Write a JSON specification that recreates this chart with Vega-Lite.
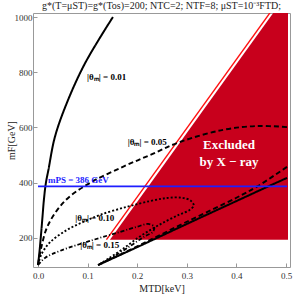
{
  "$schema": "https://vega.github.io/schema/vega-lite/v6.json",
  "width": 257,
  "height": 254,
  "autosize": {"type": "none"},
  "padding": {"left": 33, "top": 13, "right": 3, "bottom": 30},
  "config": {
    "view": {"stroke": "#999", "strokeWidth": 1},
    "font": "Liberation Serif",
    "axis": {
      "domain": false,
      "grid": false,
      "tickColor": "#999",
      "tickSize": -4,
      "labelFont": "Liberation Serif",
      "labelFontSize": 9,
      "labelColor": "#333",
      "titleFont": "Liberation Serif",
      "titleFontSize": 10,
      "titleFontWeight": "normal",
      "titleColor": "#222"
    }
  },
  "title": {
    "text": "g*(T=μST)=g*(Tos)=200; NTC=2; NTF=8; μST=10⁻³FTD;",
    "font": "Liberation Serif",
    "fontSize": 10,
    "fontWeight": "normal",
    "color": "#222",
    "offset": 2,
    "anchor": "middle"
  },
  "encoding": {
    "x": {
      "field": "x",
      "type": "quantitative",
      "scale": {"domain": [-0.0101, 0.508], "nice": false, "zero": false},
      "axis": {"values": [0, 0.1, 0.2, 0.3, 0.4, 0.5], "format": ".1f", "title": "MTD[keV]", "labelPadding": 8, "titlePadding": 3}
    },
    "y": {
      "field": "m",
      "type": "quantitative",
      "scale": {"domain": [94, 1014.5], "nice": false, "zero": false},
      "axis": {"values": [200, 400, 600, 800, 1000], "format": "d", "title": "mF[GeV]", "labelPadding": 5, "titlePadding": -2}
    }
  },
  "layer": [
    {
      "data": {"values": [
        {"x": 0.145, "m": 193, "m2": 193},
        {"x": 0.504, "m": 1089, "m2": 193}
      ]},
      "mark": {"type": "area", "color": "#c8001c", "clip": true},
      "encoding": {"y2": {"field": "m2"}}
    },
    {
      "data": {"values": [
        {"x": 0.138, "m": 193},
        {"x": 0.474, "m": 1031}
      ]},
      "mark": {"type": "line", "color": "#ff1010", "strokeWidth": 1.4, "clip": true},
      "encoding": {}
    },
    {
      "data": {"values": [
        {"c": "0.01", "b": "01u", "i": 0, "x": 0.0, "m": 101},
        {"c": "0.01", "b": "01u", "i": 1, "x": 0.003, "m": 150},
        {"c": "0.01", "b": "01u", "i": 2, "x": 0.006, "m": 210},
        {"c": "0.01", "b": "01u", "i": 3, "x": 0.009, "m": 275},
        {"c": "0.01", "b": "01u", "i": 4, "x": 0.012, "m": 340},
        {"c": "0.01", "b": "01u", "i": 5, "x": 0.016, "m": 400},
        {"c": "0.01", "b": "01u", "i": 6, "x": 0.021, "m": 446},
        {"c": "0.01", "b": "01u", "i": 7, "x": 0.034, "m": 565},
        {"c": "0.01", "b": "01u", "i": 8, "x": 0.058, "m": 688},
        {"c": "0.01", "b": "01u", "i": 9, "x": 0.095, "m": 833},
        {"c": "0.01", "b": "01u", "i": 10, "x": 0.151, "m": 1000},
        {"c": "0.01", "b": "01l", "i": 0, "x": 0.121, "m": 101},
        {"c": "0.01", "b": "01l", "i": 1, "x": 0.2, "m": 166},
        {"c": "0.01", "b": "01l", "i": 2, "x": 0.3, "m": 250},
        {"c": "0.01", "b": "01l", "i": 3, "x": 0.4, "m": 333},
        {"c": "0.01", "b": "01l", "i": 4, "x": 0.464, "m": 386},
        {"c": "0.01", "b": "01l", "i": 5, "x": 0.502, "m": 417},
        {"c": "0.05", "b": "05u", "i": 0, "x": 0.0, "m": 103},
        {"c": "0.05", "b": "05u", "i": 1, "x": 0.006, "m": 160},
        {"c": "0.05", "b": "05u", "i": 2, "x": 0.02, "m": 245},
        {"c": "0.05", "b": "05u", "i": 3, "x": 0.055, "m": 335},
        {"c": "0.05", "b": "05u", "i": 4, "x": 0.105, "m": 399},
        {"c": "0.05", "b": "05u", "i": 5, "x": 0.171, "m": 457},
        {"c": "0.05", "b": "05u", "i": 6, "x": 0.226, "m": 500},
        {"c": "0.05", "b": "05u", "i": 7, "x": 0.286, "m": 547},
        {"c": "0.05", "b": "05u", "i": 8, "x": 0.373, "m": 591},
        {"c": "0.05", "b": "05u", "i": 9, "x": 0.442, "m": 605},
        {"c": "0.05", "b": "05u", "i": 10, "x": 0.502, "m": 601},
        {"c": "0.05", "b": "05l", "i": 0, "x": 0.121, "m": 101},
        {"c": "0.05", "b": "05l", "i": 1, "x": 0.206, "m": 174},
        {"c": "0.05", "b": "05l", "i": 2, "x": 0.3, "m": 258},
        {"c": "0.05", "b": "05l", "i": 3, "x": 0.4, "m": 345},
        {"c": "0.05", "b": "05l", "i": 4, "x": 0.442, "m": 386},
        {"c": "0.05", "b": "05l", "i": 5, "x": 0.502, "m": 457},
        {"c": "0.10", "b": "10", "i": 0, "x": 0.0, "m": 102},
        {"c": "0.10", "b": "10", "i": 1, "x": 0.007, "m": 140},
        {"c": "0.10", "b": "10", "i": 2, "x": 0.024, "m": 183},
        {"c": "0.10", "b": "10", "i": 3, "x": 0.058, "m": 228},
        {"c": "0.10", "b": "10", "i": 4, "x": 0.091, "m": 257},
        {"c": "0.10", "b": "10", "i": 5, "x": 0.125, "m": 283},
        {"c": "0.10", "b": "10", "i": 6, "x": 0.179, "m": 312},
        {"c": "0.10", "b": "10", "i": 7, "x": 0.226, "m": 333},
        {"c": "0.10", "b": "10", "i": 8, "x": 0.26, "m": 344},
        {"c": "0.10", "b": "10", "i": 9, "x": 0.29, "m": 345},
        {"c": "0.10", "b": "10", "i": 10, "x": 0.308, "m": 334},
        {"c": "0.10", "b": "10", "i": 11, "x": 0.314, "m": 317},
        {"c": "0.10", "b": "10", "i": 12, "x": 0.305, "m": 300},
        {"c": "0.10", "b": "10", "i": 13, "x": 0.285, "m": 284},
        {"c": "0.10", "b": "10", "i": 14, "x": 0.258, "m": 260},
        {"c": "0.10", "b": "10", "i": 15, "x": 0.23, "m": 232},
        {"c": "0.10", "b": "10", "i": 16, "x": 0.2, "m": 198},
        {"c": "0.10", "b": "10", "i": 17, "x": 0.17, "m": 158},
        {"c": "0.10", "b": "10", "i": 18, "x": 0.145, "m": 128},
        {"c": "0.10", "b": "10", "i": 19, "x": 0.121, "m": 101},
        {"c": "0.15", "b": "15", "i": 0, "x": 0.0, "m": 101},
        {"c": "0.15", "b": "15", "i": 1, "x": 0.014, "m": 127},
        {"c": "0.15", "b": "15", "i": 2, "x": 0.045, "m": 153},
        {"c": "0.15", "b": "15", "i": 3, "x": 0.111, "m": 192},
        {"c": "0.15", "b": "15", "i": 4, "x": 0.165, "m": 221},
        {"c": "0.15", "b": "15", "i": 5, "x": 0.2, "m": 240},
        {"c": "0.15", "b": "15", "i": 6, "x": 0.222, "m": 250},
        {"c": "0.15", "b": "15", "i": 7, "x": 0.234, "m": 240},
        {"c": "0.15", "b": "15", "i": 8, "x": 0.232, "m": 222},
        {"c": "0.15", "b": "15", "i": 9, "x": 0.215, "m": 205},
        {"c": "0.15", "b": "15", "i": 10, "x": 0.19, "m": 175},
        {"c": "0.15", "b": "15", "i": 11, "x": 0.16, "m": 140},
        {"c": "0.15", "b": "15", "i": 12, "x": 0.121, "m": 101}
      ]},
      "mark": {"type": "line", "color": "black", "clip": true, "interpolate": "catmull-rom"},
      "encoding": {
        "detail": {"field": "b"},
        "order": {"field": "i", "type": "quantitative"},
        "strokeDash": {"field": "c", "type": "nominal", "scale": {"domain": ["0.01", "0.05", "0.10", "0.15"], "range": [[1, 0], [5, 3], [2, 2], [4, 2, 1, 2]]}, "legend": null},
        "strokeWidth": {"field": "c", "type": "nominal", "scale": {"domain": ["0.01", "0.05", "0.10", "0.15"], "range": [2, 1.8, 1.8, 0.8]}, "legend": null}
      }
    },
    {
      "data": {"values": [
        {"x": 0.0, "m": 386},
        {"x": 0.502, "m": 386}
      ]},
      "mark": {"type": "line", "color": "#1e1eff", "strokeWidth": 1.8, "clip": true},
      "encoding": {}
    },
    {
      "data": {"values": [
        {"x": 0.099, "m": 783, "t": "|θₘ| =  0.01"},
        {"x": 0.181, "m": 547, "t": "|θₘ| =  0.05"},
        {"x": 0.075, "m": 272, "t": "|θₘ| =  0.10"},
        {"x": 0.085, "m": 174, "t": "|θₘ| =  0.15"}
      ]},
      "mark": {"type": "text", "align": "left", "baseline": "middle", "font": "Liberation Serif", "fontSize": 9, "fontWeight": "bold", "color": "black"},
      "encoding": {"text": {"field": "t"}}
    },
    {
      "data": {"values": [
        {"x": 0.02, "m": 409, "t": "mPS = 386 GeV"}
      ]},
      "mark": {"type": "text", "align": "left", "baseline": "middle", "font": "Liberation Serif", "fontSize": 9, "fontWeight": "bold", "color": "#1e1eff"},
      "encoding": {"text": {"field": "t"}}
    },
    {
      "data": {"values": [
        {"x": 0.385, "m": 536, "t": "Excluded"},
        {"x": 0.385, "m": 475, "t": "by X − ray"}
      ]},
      "mark": {"type": "text", "align": "center", "baseline": "middle", "font": "Liberation Serif", "fontSize": 13, "fontWeight": "bold", "color": "white"},
      "encoding": {"text": {"field": "t"}}
    }
  ]
}
